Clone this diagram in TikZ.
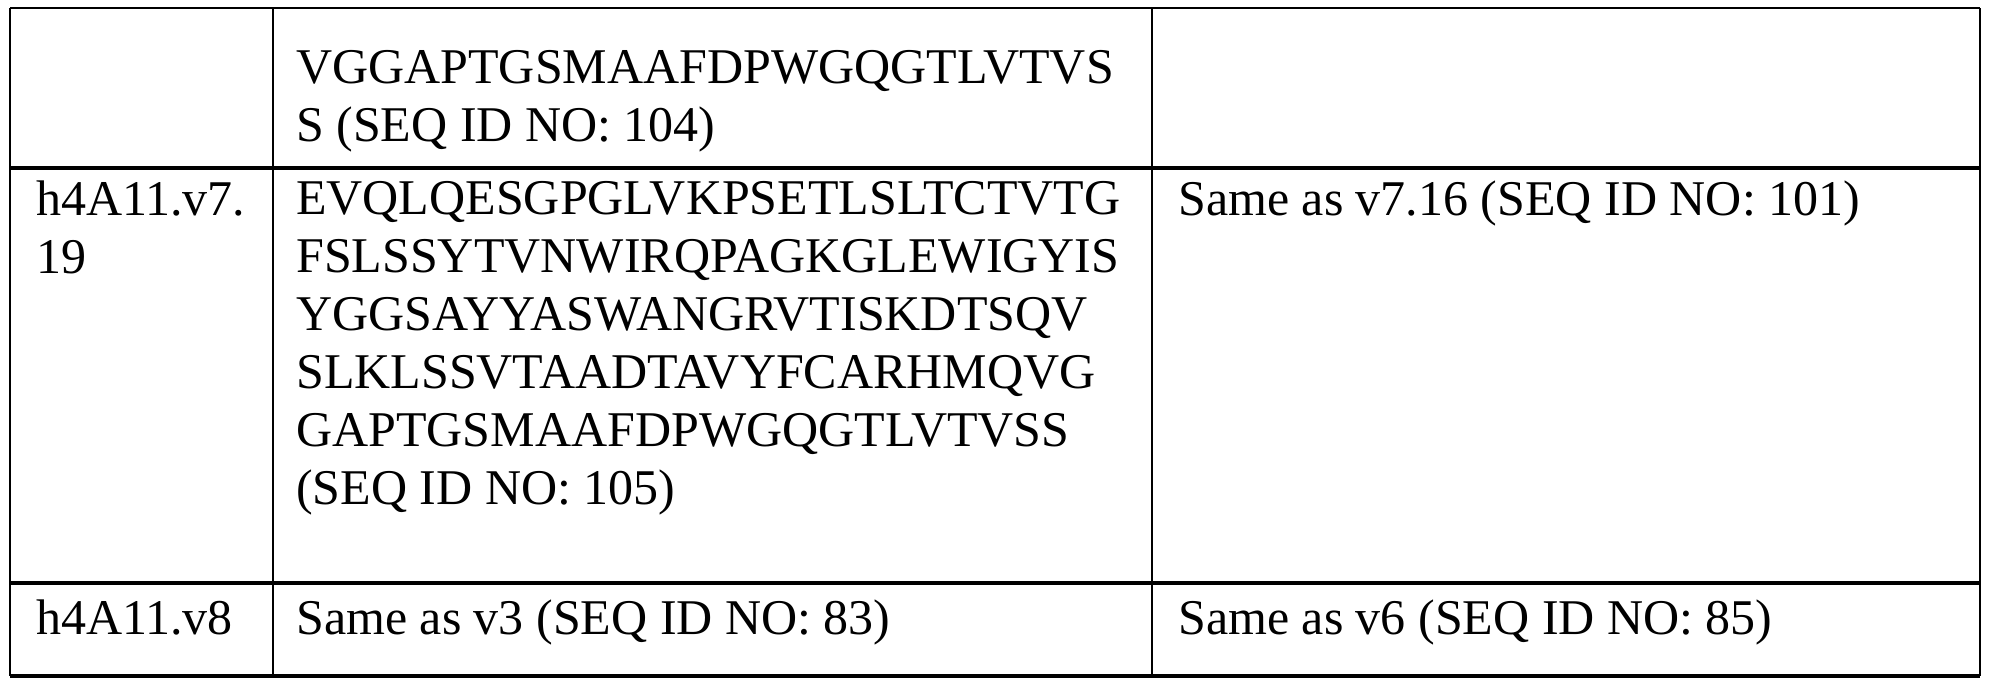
\documentclass[tikz,border=0pt]{standalone}
\usepackage{fontspec}
\setmainfont{Liberation Serif}
\begin{document}
\begin{tikzpicture}[x=1pt,y=-1pt,
  cell/.style={anchor=north west,align=left,inner sep=0pt,font=\fontsize{50}{58}\selectfont},
  thin/.style={line width=2pt},
  thick/.style={line width=4pt}]
\useasboundingbox (0,0) rectangle (1990,688);
\draw[thin] (10,8) -- (1980,8);
\draw[thick] (10,168) -- (1980,168);
\draw[thick] (10,583) -- (1980,583);
\draw[thick] (10,676) -- (1980,676);
\draw[thin] (10,8) -- (10,676);
\draw[thin] (273,8) -- (273,676);
\draw[thin] (1152,8) -- (1152,676);
\draw[thin] (1980,8) -- (1980,676);
\node[cell] (a2) at (296,50) {VGGAPTGSMAAFDPWGQGTLVTVS\\S (SEQ ID NO: 104)};
\node[cell] (b1) at (36,181) {h4A11.v7.\\19};
\node[cell] (b2) at (296,181) {EVQLQESGPGLVKPSETLSLTCTVTG\\FSLSSYTVNWIRQPAGKGLEWIGYIS\\YGGSAYYASWANGRVTISKDTSQV\\SLKLSSVTAADTAVYFCARHMQVG\\GAPTGSMAAFDPWGQGTLVTVSS\\(SEQ ID NO: 105)};
\node[cell] (b3) at (1178,181) {Same as v7.16 (SEQ ID NO: 101)};
\node[cell] (c1) at (36,600) {h4A11.v8};
\node[cell] (c2) at (296,600) {Same as v3 (SEQ ID NO: 83)};
\node[cell] (c3) at (1178,600) {Same as v6 (SEQ ID NO: 85)};
\end{tikzpicture}
\end{document}
